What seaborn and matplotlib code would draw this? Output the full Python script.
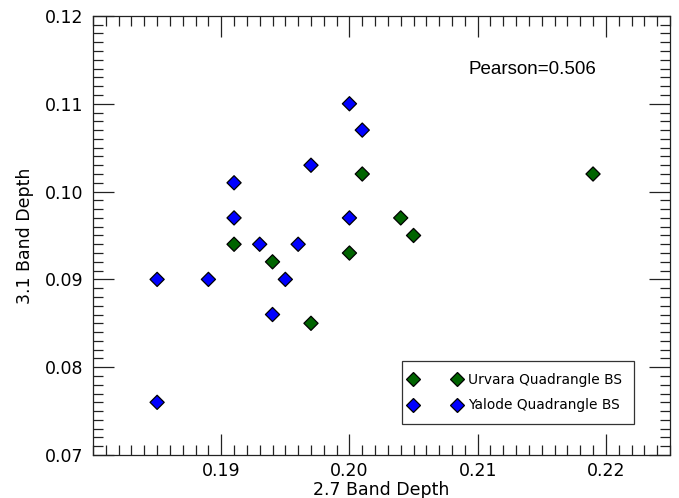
import numpy as np
import pandas as pd
import matplotlib
matplotlib.use("Agg")
import matplotlib.pyplot as plt
from matplotlib.lines import Line2D
from matplotlib.legend_handler import HandlerLine2D
from matplotlib.ticker import MultipleLocator
import seaborn as sns

# Data
urvara_x = [0.191, 0.194, 0.197, 0.200, 0.201, 0.204, 0.205, 0.219]
urvara_y = [0.094, 0.092, 0.085, 0.093, 0.102, 0.097, 0.095, 0.102]
yalode_x = [0.185, 0.185, 0.189, 0.191, 0.191, 0.193, 0.194, 0.195, 0.196, 0.197, 0.200, 0.201, 0.200]
yalode_y = [0.090, 0.076, 0.090, 0.101, 0.097, 0.094, 0.086, 0.090, 0.094, 0.103, 0.110, 0.107, 0.097]
groups = ["Urvara Quadrangle BS", "Yalode Quadrangle BS"]
colors = ["#006400", "#0000ff"]
x_ticks = [0.19, 0.20, 0.21, 0.22]
y_ticks = [0.07, 0.08, 0.09, 0.10, 0.11, 0.12]
pearson_text = "Pearson=0.506"

df = pd.DataFrame({
    "x": urvara_x + yalode_x,
    "y": urvara_y + yalode_y,
    "group": [groups[0]] * len(urvara_x) + [groups[1]] * len(yalode_x),
})

sns.set_style("ticks")
plt.rcParams["font.family"] = ["DejaVu Sans"]
plt.rcParams["text.color"] = "black"
plt.rcParams["axes.labelcolor"] = "black"
plt.rcParams["xtick.color"] = "black"
plt.rcParams["ytick.color"] = "black"

fig = plt.figure(figsize=(6.79, 4.98), dpi=100)
ax = fig.add_axes([0.137, 0.0863, 0.8497, 0.8817])

sns.scatterplot(data=df, x="x", y="y", hue="group", palette=colors,
                hue_order=groups, marker="D", s=52, edgecolor="black",
                linewidth=0.9, legend=False, ax=ax, zorder=3)

ax.set_xlim(0.180, 0.225)
ax.set_ylim(0.07, 0.12)
ax.set_xticks(x_ticks)
ax.set_xticklabels([f"{v:.2f}" for v in x_ticks])
ax.set_yticks(y_ticks)
ax.set_yticklabels([f"{v:.2f}" for v in y_ticks])
ax.xaxis.set_minor_locator(MultipleLocator(0.001))
ax.yaxis.set_minor_locator(MultipleLocator(0.001))

ax.tick_params(which="both", direction="in", top=True, right=True,
               color="#222222", labelcolor="black", width=0.9, labelsize=12.5)
ax.tick_params(which="major", length=15)
ax.tick_params(which="minor", length=7.5)
ax.tick_params(axis="y", which="major", pad=7)
ax.tick_params(axis="x", which="major", pad=5)
for sp in ax.spines.values():
    sp.set_visible(True)
    sp.set_color("#222222")
    sp.set_linewidth(0.9)

ax.set_xlabel("2.7 Band Depth", fontsize=12.5, labelpad=1, color="black")
ax.set_ylabel("3.1 Band Depth", fontsize=12.5, labelpad=8, color="black")

ax.text(0.65, 0.879, pearson_text, transform=ax.transAxes, ha="left",
        va="center", fontsize=13.5, color="black",
        family=["Liberation Sans", "DejaVu Sans"])

handles = [Line2D([], [], linestyle="none", marker="D", markersize=6.8,
                  markerfacecolor=c, markeredgecolor="black",
                  markeredgewidth=0.9) for c in colors]
leg = ax.legend(handles, groups, numpoints=2, loc="lower right",
                bbox_to_anchor=(0.9376, 0.0706), borderaxespad=0,
                fontsize=9.9, frameon=True, fancybox=False, borderpad=0.85,
                handlelength=3.15, handletextpad=0.85, labelspacing=0.85,
                handler_map={Line2D: HandlerLine2D(marker_pad=0)})
leg.get_frame().set_edgecolor("black")
leg.get_frame().set_linewidth(0.9)
for t in leg.get_texts():
    t.set_color("black")

fig.savefig("out.png", dpi=100)
